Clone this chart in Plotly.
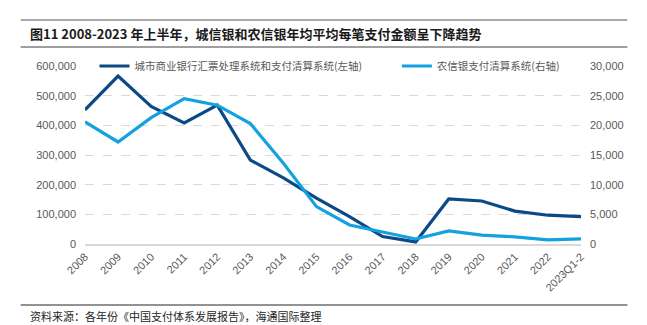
import plotly.graph_objects as go

# Annual average amount per payment transaction
years = ["2008", "2009", "2010", "2011", "2012", "2013", "2014", "2015",
         "2016", "2017", "2018", "2019", "2020", "2021", "2022", "2023Q1-2"]
city_bank = [452000, 566000, 464000, 408000, 468000, 283000, 223000, 155000,
             92000, 25000, 7000, 152000, 145000, 111000, 97000, 92000]
rural_bank = [20600, 17200, 21300, 24500, 23400, 20300, 13600, 6300,
              3200, 2000, 850, 2200, 1500, 1200, 700, 850]

name_city = "城市商业银行汇票处理系统和支付清算系统(左轴)"
name_rural = "农信银支付清算系统(右轴)"

title_text = "图11 2008-2023 年上半年，城信银和农信银年均平均每笔支付金额呈下降趋势"
source_text = "资料来源：各年份《中国支付体系发展报告》，海通国际整理"

left_ticks = [0, 100000, 200000, 300000, 400000, 500000, 600000]
right_ticks = [0, 5000, 10000, 15000, 20000, 25000, 30000]

DARK = "#0b4a85"
LIGHT = "#12a2df"
TICK_FONT = dict(family="Liberation Sans, Arial, Noto Sans CJK SC", size=11, color="#595959")
CJK = "Noto Sans CJK SC, Liberation Sans"

fig = go.Figure()
fig.add_trace(go.Scatter(
    x=years, y=city_bank, name=name_city, mode="lines",
    line=dict(color=DARK, width=3.2), yaxis="y", legend="legend",
))
fig.add_trace(go.Scatter(
    x=years, y=rural_bank, name=name_rural, mode="lines",
    line=dict(color=LIGHT, width=3.2), yaxis="y2", legend="legend2",
))

# pixel -> paper helpers for a 497x178 plot area starting at (84.5, 66)
def px(x):
    return (x - 84.5) / 497.0

def py(y):
    return (244.0 - y) / 178.0

legend_common = dict(
    orientation="h", bgcolor="rgba(0,0,0,0)", borderwidth=0,
    font=dict(family=CJK, size=10.5, color="#595959"),
    yanchor="middle", xanchor="left", itemwidth=30, tracegroupgap=0,
)

fig.update_layout(
    width=647, height=325,
    margin=dict(l=84.5, r=65.5, t=66, b=81),
    paper_bgcolor="white", plot_bgcolor="white",
    showlegend=True,
    legend=dict(x=px(94), y=py(66), **legend_common),
    legend2=dict(x=px(397), y=py(66), **legend_common),
    xaxis=dict(
        type="category", tickangle=-45, tickfont=TICK_FONT,
        showgrid=False, showline=True, linecolor="#d9d9d9", linewidth=2,
        ticks="", zeroline=False,
    ),
    yaxis=dict(
        range=[0, 600000], tickvals=left_ticks, tickformat=",d",
        tickfont=TICK_FONT, showgrid=True, gridcolor="#d9d9d9",
        griddash="dash", gridwidth=1, zeroline=False, ticks="",
        ticklabelstandoff=8,
    ),
    yaxis2=dict(
        range=[0, 30000], tickvals=right_ticks, tickformat=",d",
        tickfont=TICK_FONT, overlaying="y", side="right",
        showgrid=False, zeroline=False, ticks="", ticklabelstandoff=8,
    ),
    shapes=[
        dict(type="line", xref="paper", yref="paper", x0=px(20), x1=px(628),
             y0=py(20), y1=py(20), line=dict(color="#8c8c8c", width=1.5)),
        dict(type="line", xref="paper", yref="paper", x0=px(20), x1=px(628),
             y0=py(47), y1=py(47), line=dict(color="#404040", width=1.2)),
        dict(type="line", xref="paper", yref="paper", x0=px(20), x1=px(628),
             y0=py(305), y1=py(305), line=dict(color="#262626", width=1.2)),
    ],
    annotations=[
        dict(text="<b>" + title_text + "</b>", xref="paper", yref="paper",
             x=px(27), y=py(33), xanchor="left", yanchor="middle",
             showarrow=False, font=dict(family=CJK, size=13, color="#1a1a1a")),
        dict(text=source_text, xref="paper", yref="paper",
             x=px(27), y=py(316), xanchor="left", yanchor="middle",
             showarrow=False, font=dict(family=CJK, size=11, color="#262626")),
    ],
)

fig.write_html("out.html")
